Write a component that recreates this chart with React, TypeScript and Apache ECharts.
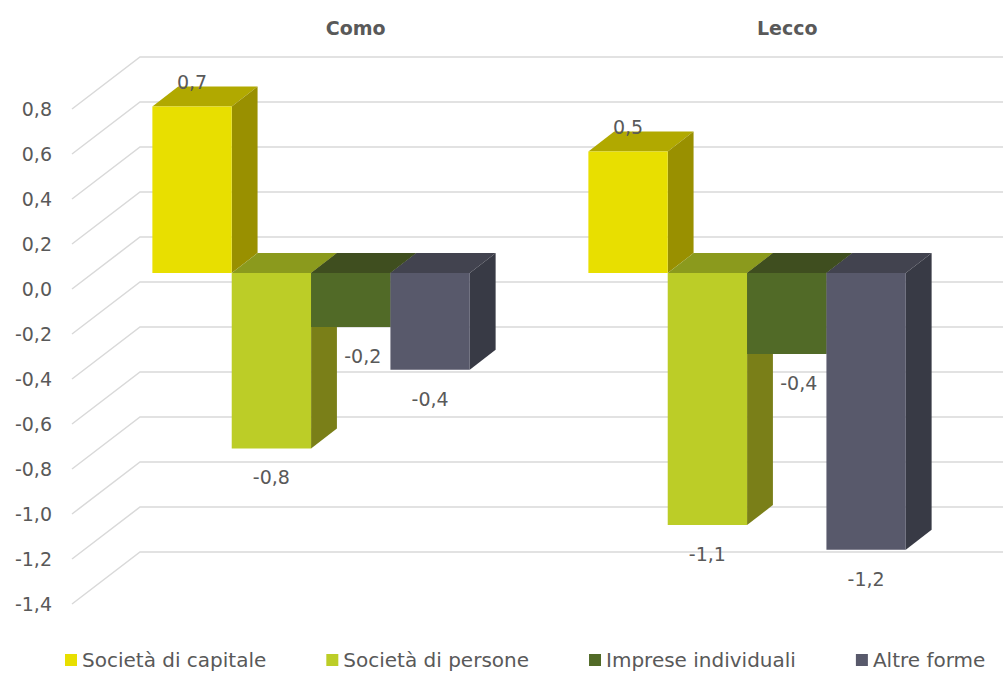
import React, { useEffect, useRef } from 'react';
import * as echarts from 'echarts';

const CATEGORIES = ['Como', 'Lecco'];
const SERIES_NAMES = ['Società di capitale', 'Società di persone', 'Imprese individuali', 'Altre forme'];
const CAPITALE = [0.74, 0.54];
const PERSONE = [-0.78, -1.12];
const INDIVIDUALI = [-0.24, -0.36];
const ALTRE = [-0.43, -1.23];
const SERIES_VALUES = [CAPITALE, PERSONE, INDIVIDUALI, ALTRE];
const Y_TICKS = [0.8, 0.6, 0.4, 0.2, 0.0, -0.2, -0.4, -0.6, -0.8, -1.0, -1.2, -1.4];

const FRONT = ['#E8DF00', '#BCCD27', '#516A27', '#58596B'];
const SIDE = ['#999000', '#7A7F18', '#3D4F1D', '#383A45'];
const TOP = ['#B1A900', '#8B9A1D', '#3F4E1F', '#42434F'];
const LABEL_SHIFT = [0, 0, 12, 0];

const DEPTH_X = 68;
const DEPTH_Y = -52;
const BAR_START = 0.31;
const BAR_END = 0.69;
const BAR_FRACTION = 0.182;
const FONT = '"DejaVu Sans", sans-serif';
const TEXT = '#595959';

const fmt = (v: number) => v.toFixed(1).replace('.', ',');

export default function App() {
  const ref = useRef<HTMLDivElement>(null);
  useEffect(() => {
    document.body.style.margin = '0';
    const chart = echarts.init(ref.current!, null, { renderer: 'svg' });
    const ox = DEPTH_X * BAR_START;
    const oy = DEPTH_Y * BAR_START;
    const dx = DEPTH_X * (BAR_END - BAR_START);
    const dy = DEPTH_Y * (BAR_END - BAR_START);

    const gridSeries = {
      type: 'custom',
      xAxisIndex: 0,
      yAxisIndex: 0,
      silent: true,
      z: 1,
      data: Y_TICKS.map((t) => [0, t]),
      renderItem: (params: any, api: any) => {
        const p = api.coord([0, api.value(1)]);
        const cs = params.coordSys;
        const left = cs.x;
        const right = cs.x + cs.width;
        return {
          type: 'polyline',
          shape: {
            points: [
              [left, p[1]],
              [left + DEPTH_X, p[1] + DEPTH_Y],
              [right + DEPTH_X, p[1] + DEPTH_Y],
            ],
          },
          style: { stroke: '#D9D9D9', lineWidth: 1.5, fill: 'none' },
        };
      },
    };

    const barSeries = SERIES_NAMES.map((name, k) => ({
      type: 'custom',
      name,
      xAxisIndex: 0,
      yAxisIndex: 0,
      z: 2,
      itemStyle: { color: FRONT[k] },
      data: SERIES_VALUES[k].map((v, i) => [i, v]),
      renderItem: (params: any, api: any) => {
        const cat = api.value(0);
        const v = api.value(1);
        const zero = api.coord([cat, 0]);
        const end = api.coord([cat, v]);
        const band = api.size([1, 0])[0];
        const bw = band * BAR_FRACTION;
        const x0 = zero[0] - 2 * bw + k * bw + ox;
        const x1 = x0 + bw;
        const yA = zero[1] + oy;
        const yB = end[1] + oy;
        const yTop = Math.min(yA, yB);
        const yBot = Math.max(yA, yB);
        const lx = (x0 + x1) / 2 + LABEL_SHIFT[k];
        const ly = v >= 0 ? yTop - 24 : yBot + 29;
        return {
          type: 'group',
          children: [
            {
              type: 'polygon',
              shape: { points: [[x0, yTop], [x1, yTop], [x1 + dx, yTop + dy], [x0 + dx, yTop + dy]] },
              style: { fill: TOP[k] },
            },
            {
              type: 'polygon',
              shape: { points: [[x1, yTop], [x1 + dx, yTop + dy], [x1 + dx, yBot + dy], [x1, yBot]] },
              style: { fill: SIDE[k] },
            },
            {
              type: 'rect',
              shape: { x: x0, y: yTop, width: bw, height: yBot - yTop },
              style: { fill: FRONT[k] },
            },
            {
              type: 'text',
              z2: 100,
              style: {
                text: fmt(v),
                x: lx,
                y: ly,
                align: 'center',
                verticalAlign: 'middle',
                fill: TEXT,
                font: `19px ${FONT}`,
              },
            },
          ],
        };
      },
    }));

    chart.setOption({
      animation: false,
      backgroundColor: '#FFFFFF',
      grid: [
        { left: 72, top: 109, width: 872, height: 495 },
        { left: 140, top: 57, width: 872, height: 495 },
      ],
      xAxis: [
        {
          type: 'category',
          gridIndex: 0,
          data: CATEGORIES,
          axisLine: { show: false },
          axisTick: { show: false },
          axisLabel: { show: false },
        },
        {
          type: 'category',
          gridIndex: 1,
          data: CATEGORIES,
          position: 'top',
          axisLine: { show: false },
          axisTick: { show: false },
          axisLabel: {
            margin: 20,
            color: TEXT,
            fontWeight: 'bold',
            fontSize: 19,
            fontFamily: FONT,
          },
        },
      ],
      yAxis: [
        {
          type: 'value',
          gridIndex: 0,
          min: -1.4,
          max: 0.8,
          interval: 0.2,
          axisLine: { show: false },
          axisTick: { show: false },
          splitLine: { show: false },
          axisLabel: {
            margin: 20,
            color: TEXT,
            fontSize: 19,
            fontFamily: FONT,
            formatter: (v: number) => fmt(v),
          },
        },
        { type: 'value', gridIndex: 1, show: false, min: -1.4, max: 0.8 },
      ],
      legend: {
        data: SERIES_NAMES,
        top: 644,
        left: 60,
        itemWidth: 12,
        itemHeight: 12,
        itemGap: 60,
        icon: 'rect',
        textStyle: { color: TEXT, fontSize: 20, fontFamily: FONT, lineHeight: 22 },
      },
      series: [gridSeries, ...barSeries],
    });
    return () => chart.dispose();
  }, []);
  return <div ref={ref} style={{ width: 1003, height: 673 }} />;
}
